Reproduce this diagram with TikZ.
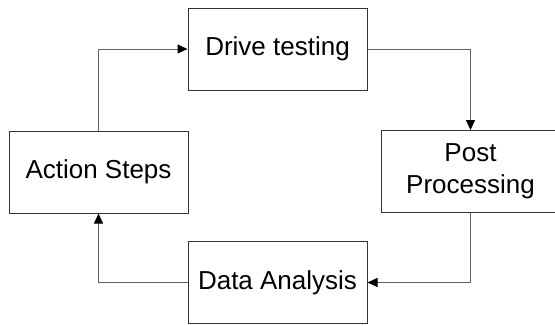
\documentclass[tikz,border=0pt]{standalone}
\usepackage{fontspec}
\setmainfont{Liberation Sans}
\usepackage{tikz}
\usetikzlibrary{arrows.meta}

\tikzset{
	stepbox/.style={draw=black!80, line width=1pt, minimum width=179pt, minimum height=82pt, inner sep=0pt, align=center, font=\fontsize{26}{32}\selectfont},
	flowline/.style={draw=black!62, line width=1pt, -{Triangle[length=10pt,width=9pt,color=black]}}
}

\begin{document}
\begin{tikzpicture}[x=1pt,y=1pt]
	\useasboundingbox (0,0) rectangle (555,325);
	\begin{scope}
	\clip (0,0) rectangle (555,325);
	\node [stepbox] (drive) at (277.5,276) {Drive testing};
	\node [stepbox] (post) at (470.5,153.5) {Post\\Processing};
	\node [stepbox] (data) at (277.5,42.5) {Data Analysis};
	\node [stepbox] (action) at (98.5,153) {Action Steps};

	% Cycle of steps, clockwise
	\draw [flowline] (drive.east) -| (post.north);
	\draw [flowline] (post.south) |- (data.east);
	\draw [flowline] (data.west) -| (action.south);
	\draw [flowline] (action.north) |- (drive.west);
	\end{scope}
\end{tikzpicture}
\end{document}
